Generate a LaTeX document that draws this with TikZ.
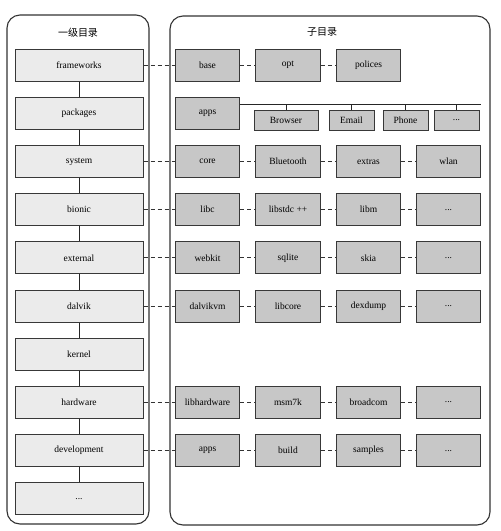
\documentclass[tikz,border=0pt]{standalone}
\usepackage{fontspec}
\setmainfont{Liberation Serif}
\newfontfamily\cjk{Noto Sans CJK SC}
\begin{document}
\begin{tikzpicture}[x=1pt,y=-1pt,
  panel/.style={draw=black!80,line width=1.1pt,rounded corners=13pt},
  lbox/.style={draw=black!78,line width=1pt,fill=black!8,minimum width=128pt,minimum height=32pt,inner sep=0pt,font=\fontsize{9.5}{11}\selectfont},
  rbox/.style={draw=black!78,line width=1pt,fill=black!22,minimum width=64.5pt,minimum height=32pt,inner sep=0pt,font=\fontsize{9.5}{11}\selectfont},
  sbox/.style={draw=black!78,line width=1pt,fill=black!22,minimum height=20pt,inner sep=0pt,font=\fontsize{9.5}{11}\selectfont},
  dline/.style={draw=black!80,line width=0.9pt,dash pattern=on 4pt off 3pt},
  sline/.style={draw=black!85,line width=0.9pt}]
\useasboundingbox (0,0) rectangle (501,531);
% panels
\draw[panel] (7,15) rectangle (149,524);
\draw[panel] (170,16) rectangle (490,525);
\node[font=\cjk\fontsize{10}{12}\selectfont] (t1) at (78,33) {一级目录};
\node[font=\cjk\fontsize{10}{12}\selectfont] (t2) at (322,32) {子目录};
% left column
\node[lbox] (frameworks) at (79,65) {frameworks};
\node[lbox] (packages) at (79,113.2) {packages};
\node[lbox] (system) at (79,161.4) {system};
\node[lbox] (bionic) at (79,209.6) {bionic};
\node[lbox] (external) at (79,257.8) {external};
\node[lbox] (dalvik) at (79,306) {dalvik};
\node[lbox] (kernel) at (79,354.2) {kernel};
\node[lbox] (hardware) at (79,402.4) {hardware};
\node[lbox] (development) at (79,450.6) {development};
\node[lbox] (ldots) at (79,498.8) {...};
\foreach \a/\b in {frameworks/packages,packages/system,system/bionic,bionic/external,external/dalvik,dalvik/kernel,kernel/hardware,hardware/development,development/ldots}
  \draw[sline] (\a.south) -- (\b.north);
% right rows
\node[rbox] (base) at (207.5,65) {base};
\node[rbox] (opt) at (288,65) {opt};
\node[rbox] (polices) at (368.5,65) {polices};
\node[rbox] (apps) at (207.5,113.2) {apps};
\node[rbox] (core) at (207.5,161.4) {core};
\node[rbox] (bluetooth) at (288,161.4) {Bluetooth};
\node[rbox] (extras) at (368.5,161.4) {extras};
\node[rbox] (wlan) at (448.5,161.4) {wlan};
\node[rbox] (libc) at (207.5,209.6) {libc};
\node[rbox] (libstdc) at (288,209.6) {libstdc ++};
\node[rbox] (libm) at (368.5,209.6) {libm};
\node[rbox] (bdots) at (448.5,209.6) {...};
\node[rbox] (webkit) at (207.5,257.8) {webkit};
\node[rbox] (sqlite) at (288,257.8) {sqlite};
\node[rbox] (skia) at (368.5,257.8) {skia};
\node[rbox] (edots) at (448.5,257.8) {...};
\node[rbox] (dalvikvm) at (207.5,306) {dalvikvm};
\node[rbox] (libcore) at (288,306) {libcore};
\node[rbox] (dexdump) at (368.5,306) {dexdump};
\node[rbox] (ddots) at (448.5,306) {...};
\node[rbox] (libhardware) at (207.5,402.4) {libhardware};
\node[rbox] (msm) at (288,402.4) {msm7k};
\node[rbox] (broadcom) at (368.5,402.4) {broadcom};
\node[rbox] (hdots) at (448.5,402.4) {...};
\node[rbox] (apps2) at (207.5,450.6) {apps};
\node[rbox] (build) at (288,450.6) {build};
\node[rbox] (samples) at (368.5,450.6) {samples};
\node[rbox] (vdots) at (448.5,450.6) {...};
% apps sub-boxes
\node[sbox,minimum width=64pt] (browser) at (286,120) {Browser};
\node[sbox,minimum width=45pt] (email) at (351.5,120) {Email};
\node[sbox,minimum width=45pt] (phone) at (405.5,120) {Phone};
\node[sbox,minimum width=45pt] (adots) at (456.5,120) {...};
\coordinate (bus) at (481,104);
\draw[sline] (apps.east |- bus) -- (bus);
\foreach \n in {browser,email,phone,adots}
  \draw[sline] (\n.north) -- (\n.north |- bus);
% dashed chains
\foreach \a/\b in {frameworks/base,base/opt,opt/polices,
  system/core,core/bluetooth,bluetooth/extras,extras/wlan,
  bionic/libc,libc/libstdc,libstdc/libm,libm/bdots,
  external/webkit,webkit/sqlite,sqlite/skia,skia/edots,
  dalvik/dalvikvm,dalvikvm/libcore,libcore/dexdump,dexdump/ddots,
  hardware/libhardware,libhardware/msm,msm/broadcom,broadcom/hdots,
  development/apps2,apps2/build,build/samples,samples/vdots}
  \draw[dline] (\a.east) -- (\b.west);
\end{tikzpicture}
\end{document}
